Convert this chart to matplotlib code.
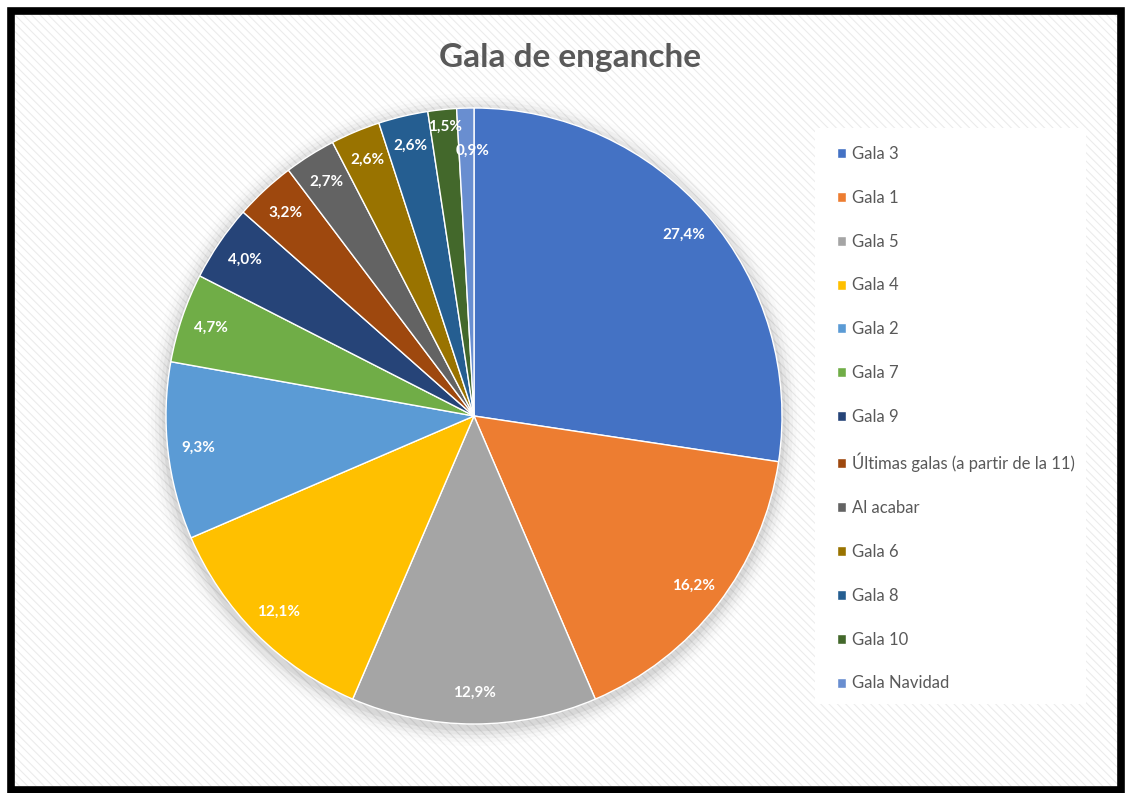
import matplotlib
matplotlib.use("Agg")
import matplotlib.pyplot as plt
from matplotlib.patches import Rectangle, Circle

plt.rcParams['font.family'] = ['Lato', 'DejaVu Sans']
plt.rcParams['hatch.linewidth'] = 0.8

# datos de la encuesta
categorias = ['Gala 3', 'Gala 1', 'Gala 5', 'Gala 4', 'Gala 2', 'Gala 7', 'Gala 9',
              'Últimas galas (a partir de la 11)', 'Al acabar', 'Gala 6', 'Gala 8',
              'Gala 10', 'Gala Navidad']
porcentajes = [27.4, 16.2, 12.9, 12.1, 9.3, 4.7, 4.0, 3.2, 2.7, 2.6, 2.6, 1.5, 0.9]
colores = ['#4472C4', '#ED7D31', '#A5A5A5', '#FFC000', '#5B9BD5', '#70AD47', '#264478',
           '#9E480E', '#636363', '#997300', '#255E91', '#43682B', '#698ED0']

W, H = 1126, 793
fig = plt.figure(figsize=(W / 100, H / 100), dpi=100)
fig.patch.set_facecolor('white')

# fondo rayado y marco negro
fondo = Rectangle((0.01, 0.005), 0.985, 0.98, transform=fig.transFigure,
                  facecolor='white', edgecolor='#ececec', hatch='\\\\\\\\', lw=0, zorder=0)
fig.patches.append(fondo)
marco = Rectangle((0.0095, 0.004), 0.9865, 0.9815, transform=fig.transFigure,
                  facecolor='none', edgecolor='black', lw=5.5, zorder=1)
fig.patches.append(marco)

# caja blanca de la leyenda
caja = Rectangle((815 / W, 1 - 704 / H), 271 / W, 576 / H,
                 transform=fig.transFigure, facecolor='white', edgecolor='none', zorder=2)
fig.patches.append(caja)

ax = fig.add_axes([(474 - 308) / W, (H - 416 - 308) / H, 616 / W, 616 / H])
ax.set_zorder(3)

# sombra suave alrededor del círculo
for i, a in enumerate([0.05, 0.04, 0.03, 0.02, 0.012]):
    ax.add_patch(Circle((0, -0.012), 1.0 + 0.012 * (i + 1), color='black', alpha=a,
                        lw=0, zorder=0, clip_on=False))

wedges, textos, autotextos = ax.pie(
    porcentajes, colors=colores, startangle=90, counterclock=False,
    autopct=lambda p: f'{p:.1f}%'.replace('.', ','), pctdistance=0.9,
    wedgeprops=dict(edgecolor='white', linewidth=1),
    textprops=dict(color='white', fontsize=11, fontweight='bold'))

# pequeño ajuste de las etiquetas de las dos porciones más finas
for t, (dx, dy) in zip(autotextos[-2:], [(0.0, 0.045), (0.02, -0.04)]):
    x, y = t.get_position()
    t.set_position((x + dx, y + dy))

ax.set_xlim(-1, 1)
ax.set_ylim(-1, 1)
ax.set_aspect('equal')

fig.text(570 / W, 1 - 58 / H, 'Gala de enganche', ha='center', va='center',
         fontsize=24, fontweight='bold', color='#595959')

leg = fig.legend(wedges, categorias, loc='upper left',
                 bbox_to_anchor=(822 / W, 1 - 131 / H), frameon=False,
                 handlelength=0.55, handleheight=0.55, handletextpad=0.35,
                 labelspacing=1.67, fontsize=12, labelcolor='#595959')
leg.set_zorder(4)

fig.savefig('out.png', dpi=100)
